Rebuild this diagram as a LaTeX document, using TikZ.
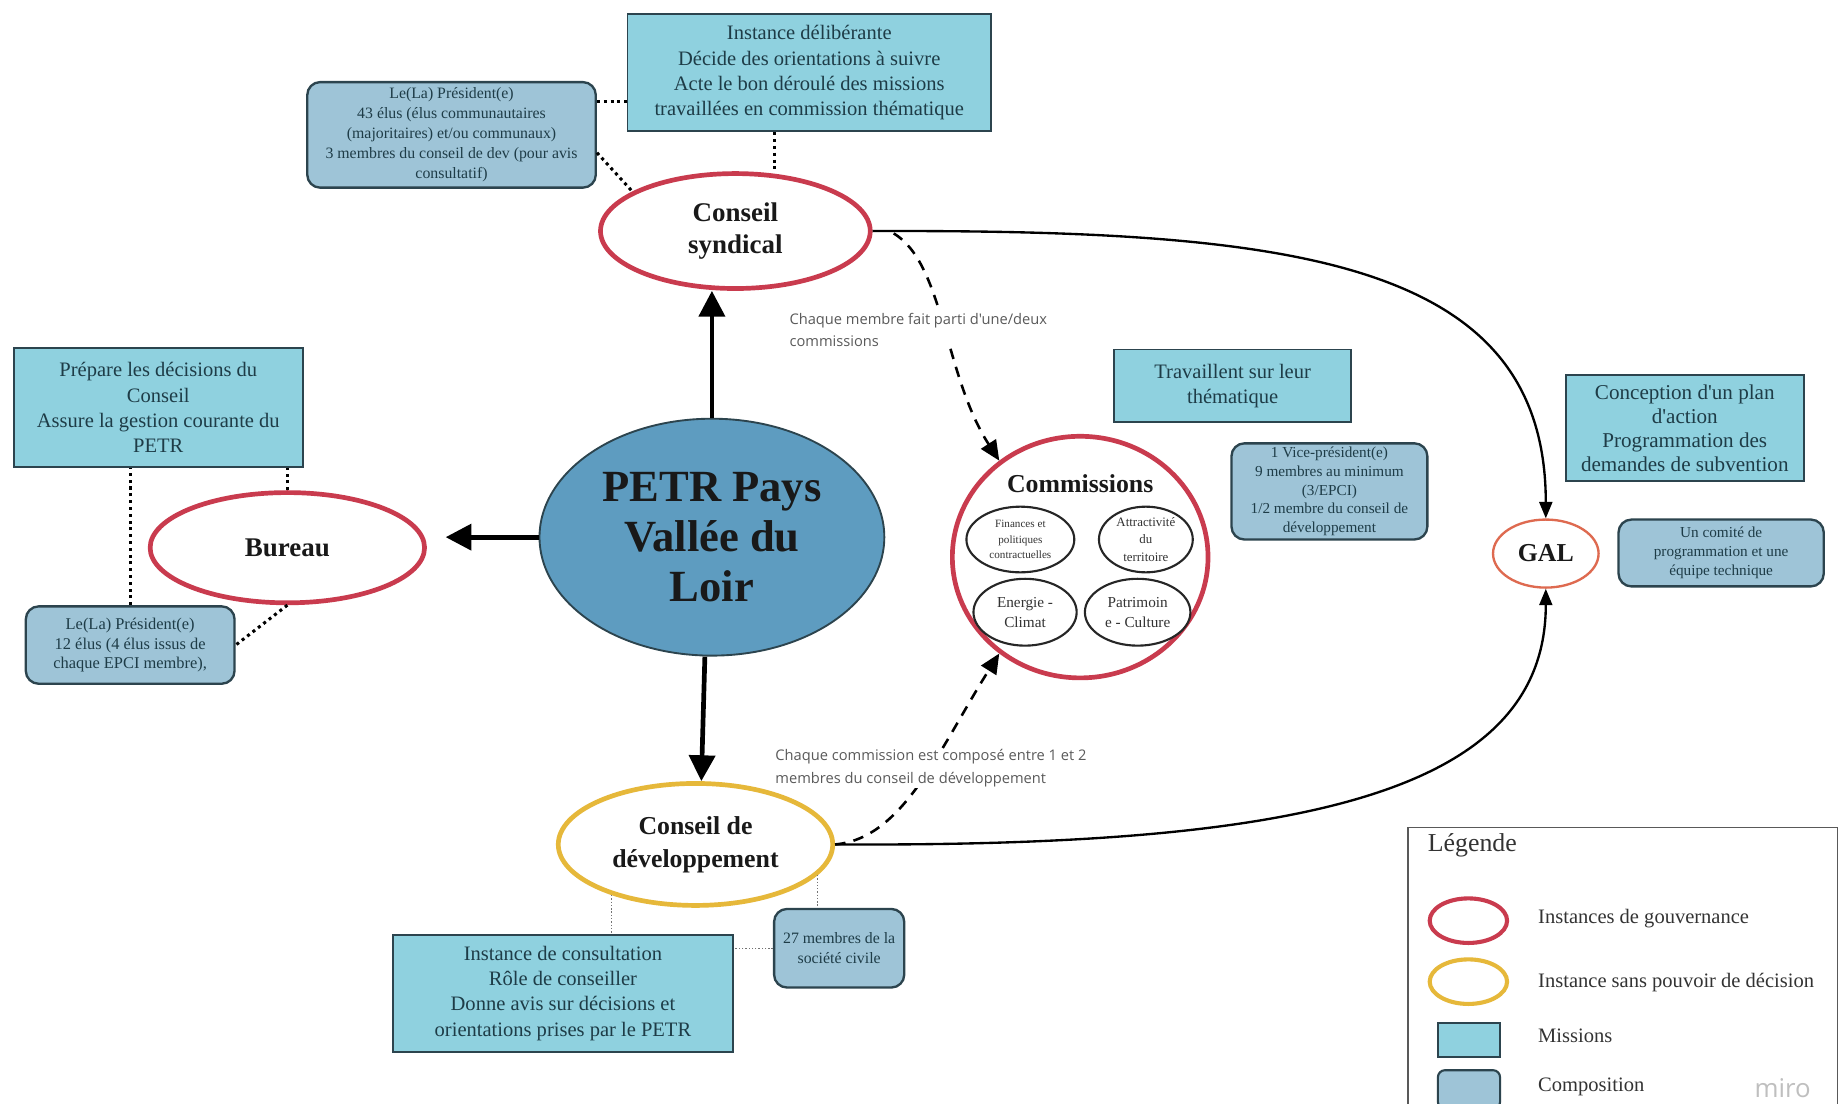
\documentclass[tikz,border=0pt]{standalone}
\usepackage{fontspec}
\setmainfont{Liberation Serif}
\newfontfamily\lblfont{Open Sans}
\usetikzlibrary{shapes.geometric,arrows.meta,calc}
\definecolor{misfill}{HTML}{8FD1DF}
\definecolor{compfill}{HTML}{9EC4D7}
\definecolor{petrfill}{HTML}{5E9CC0}
\definecolor{govred}{HTML}{C93B4E}
\definecolor{devyel}{HTML}{E6B83A}
\definecolor{galred}{HTML}{DE6A50}
\definecolor{boxline}{HTML}{2C444E}
\definecolor{boxtext}{HTML}{1E3C47}
\definecolor{lbltext}{HTML}{5A5A5A}
\begin{document}
\begin{tikzpicture}[x=1pt,y=-1pt,
  mission/.style={rectangle, draw=boxline, line width=1.6pt, fill=misfill, text=boxtext, align=center, inner sep=2pt, font=\fontsize{17.5}{21.5}\selectfont},
  comp/.style={rectangle, draw=boxline, line width=2pt, fill=compfill, rounded corners=11pt, text=boxtext, align=center, inner sep=2pt, font=\fontsize{13.5}{17}\selectfont},
  gov/.style={ellipse, draw=govred, line width=4pt, fill=white, align=center, inner sep=0pt, text=black!90, font=\bfseries\fontsize{23}{28}\selectfont},
  devel/.style={ellipse, draw=devyel, line width=4pt, fill=white, align=center, inner sep=0pt, text=black!90, font=\bfseries\fontsize{22}{28}\selectfont},
  subcom/.style={ellipse, draw=black!85, line width=1.8pt, fill=white, align=center, inner sep=0pt, text=black!80},
  bigarrow/.style={line width=4pt, -{Triangle[length=22pt,width=22pt]}},
  curvearrow/.style={line width=2pt, -{Triangle[length=14pt,width=11pt]}},
  dasharrow/.style={line width=2.2pt, dash pattern=on 9pt off 7pt, -{Triangle[length=17pt,width=15pt]}},
  dotblack/.style={line width=2.6pt, dash pattern=on 2.6pt off 3.2pt},
  dotgray/.style={line width=1.1pt, draw=black!55, dash pattern=on 1.2pt off 1.6pt},
  lbl/.style={fill=white, text=lbltext, align=left, inner sep=1pt, font=\lblfont\fontsize{12.5}{19}\selectfont},
  legtext/.style={anchor=west, text=black!80, font=\fontsize{17.5}{21}\selectfont}
]
\useasboundingbox (0,0) rectangle (1568,941);
\fill[white] (0,0) rectangle (1568,941);

% ---------- main nodes ----------
\node[ellipse, draw=boxline, line width=1.6pt, fill=petrfill, minimum width=294pt, minimum height=202pt, inner sep=0pt, align=center, text=black!90, font=\bfseries\fontsize{38}{42.5}\selectfont] (petr) at (607,458) {PETR Pays\\Vallée du\\Loir};

\node[gov, minimum width=230pt, minimum height=98pt] (cs) at (627,197) {Conseil\\syndical};
\node[gov, minimum width=234pt, minimum height=94pt] (bureau) at (245,467) {Bureau};
\node[devel, minimum width=234pt, minimum height=104pt] (cd) at (593,720) {Conseil de\\développement};
\node[gov, minimum width=218pt, minimum height=206pt] (com) at (921,475) {};
\node[ellipse, draw=galred, line width=2pt, fill=white, minimum width=90pt, minimum height=58pt, inner sep=0pt, text=black!90, font=\bfseries\fontsize{22}{26}\selectfont] (gal) at (1318,472) {GAL};

\node[font=\bfseries\fontsize{22}{26}\selectfont, text=black!90] (comtitle) at (921,412) {Commissions};
\node[subcom, minimum width=92pt, minimum height=56pt, font=\fontsize{9.5}{13.5}\selectfont] (fin) at (870,460) {Finances et\\politiques\\contractuelles};
\node[subcom, minimum width=80pt, minimum height=56pt, font=\fontsize{11}{15}\selectfont] (attr) at (977,460) {Attractivité\\du\\territoire};
\node[subcom, minimum width=88pt, minimum height=57pt, font=\fontsize{13}{17}\selectfont] (ener) at (874,522) {Energie -\\Climat};
\node[subcom, minimum width=90pt, minimum height=57pt, font=\fontsize{13}{17}\selectfont] (patr) at (970,522) {Patrimoin\\e - Culture};

% ---------- mission / composition boxes ----------
\node[mission, minimum width=310pt, minimum height=100pt] (csmis) at (690,62) {Instance délibérante\\Décide des orientations à suivre\\Acte le bon déroulé des missions\\travaillées en commission thématique};
\node[comp, minimum width=246pt, minimum height=90pt] (cscomp) at (385,115) {Le(La) Président(e)\\43 élus (élus communautaires\\(majoritaires) et/ou communaux)\\3 membres du conseil de dev (pour avis\\consultatif)};

\node[mission, minimum width=246pt, minimum height=101pt] (bmis) at (135,347.5) {Prépare les décisions du\\Conseil\\Assure la gestion courante du\\PETR};
\node[comp, minimum width=178pt, minimum height=66pt, font=\fontsize{14}{16.5}\selectfont] (bcomp) at (111,550) {Le(La) Président(e)\\12 élus (4 élus issus de\\chaque EPCI membre),};

\node[mission, minimum width=290pt, minimum height=100pt] (cdmis) at (480,847) {Instance de consultation\\Rôle de conseiller\\Donne avis sur décisions et\\orientations prises par le PETR};
\node[comp, minimum width=111pt, minimum height=67pt] (cdcomp) at (715.5,808.5) {27 membres de la\\société civile};

\node[mission, minimum width=202pt, minimum height=62pt] (commis) at (1051,329) {Travaillent sur leur\\thématique};
\node[comp, minimum width=167pt, minimum height=82pt, font=\fontsize{13}{16}\selectfont] (comcomp) at (1133.5,419) {1 Vice-président(e)\\9 membres au minimum\\(3/EPCI)\\1/2 membre du conseil de\\développement};

\node[mission, minimum width=203pt, minimum height=90pt, font=\fontsize{18}{20.5}\selectfont] (galmis) at (1436.5,365) {Conception d\textquotesingle un plan\\d\textquotesingle action\\Programmation des\\demandes de subvention};
\node[comp, minimum width=175pt, minimum height=57pt, font=\fontsize{13}{16}\selectfont] (galcomp) at (1467.5,471.5) {Un comité de\\programmation et une\\équipe technique};

% ---------- dotted links ----------
\draw[dotblack] (cscomp.13) -- (csmis.west |- cscomp.13);
\draw[dotblack] (cscomp.-7) -- (cs.159);
\draw[dotblack] ([xshift=-30pt]csmis.south) -- ([xshift=-30pt]csmis.south |- cs.north);
\draw[dotblack] (bcomp.north) -- (bcomp.north |- bmis.south);
\draw[dotblack] (bureau.north) -- (bureau.north |- bmis.south);
\draw[dotblack] (bureau.south) -- (bcomp.east);
\draw[dotgray] (cd.211) -- (cd.211 |- cdmis.north);
\draw[dotgray] (cd.-14) -- (cd.-14 |- cdcomp.north);
\draw[dotgray] (cdcomp.west) -- (cdcomp.west -| cdmis.east);

% ---------- main arrows ----------
\draw[bigarrow] (petr.north) -- (petr.north |- cs.south);
\draw[bigarrow, shorten >=16pt] (petr.west) -- (petr.west -| bureau.east);
\draw[bigarrow] ([xshift=-6pt]petr.south) -- ([xshift=5pt]cd.north);

\draw[curvearrow] (cs.east) .. controls (1100,196) and (1318,220) .. (gal.north);
\draw[curvearrow] (cd.east) .. controls (1100,722) and (1318,680) .. (gal.south);

\draw[dasharrow] ([shift={(18pt,-2pt)}]cs.east) .. controls (805,225) and (805,320) .. (com.130);
\draw[dasharrow] (cd.east) .. controls (770,715) and (800,640) .. (com.230);

\node[lbl, anchor=north west] (lab1) at (672,266) {Chaque membre fait parti d'une/deux\\commissions};
\node[lbl, anchor=north west] (lab2) at (660,638) {Chaque commission est composé entre 1 et 2\\membres du conseil de développement};

% ---------- legend ----------
\node[rectangle, draw=black!65, line width=1pt, anchor=north west, minimum width=366pt, minimum height=250pt, inner sep=0pt] (leg) at (1200,705) {};
\node[anchor=west, text=black!80, font=\fontsize{22}{26}\selectfont] (legtitle) at (1214,721) {Légende};
\node[ellipse, draw=govred, line width=3.5pt, minimum width=66pt, minimum height=38pt, inner sep=0pt] (lgov) at (1252,785) {};
\node[ellipse, draw=devyel, line width=3.5pt, minimum width=66pt, minimum height=38pt, inner sep=0pt] (ldev) at (1252,837) {};
\node[rectangle, draw=boxline, line width=1.6pt, fill=misfill, minimum width=53pt, minimum height=29pt, inner sep=0pt] (lmis) at (1252.5,886.5) {};
\node[rectangle, draw=boxline, line width=1.8pt, fill=compfill, rounded corners=6pt, minimum width=53pt, minimum height=33pt, inner sep=0pt] (lcomp) at (1252.5,929) {};
\node[legtext] (tgov) at (1308,783) {Instances de gouvernance};
\node[legtext] (tdev) at (1308,838) {Instance sans pouvoir de décision};
\node[legtext] (tmis) at (1308,883) {Missions};
\node[legtext] (tcomp) at (1308,927) {Composition};
\node[text=black!25, font=\lblfont\fontsize{22}{24}\selectfont, inner sep=0pt] (miro) at (1520,928) {miro};
\end{tikzpicture}
\end{document}
